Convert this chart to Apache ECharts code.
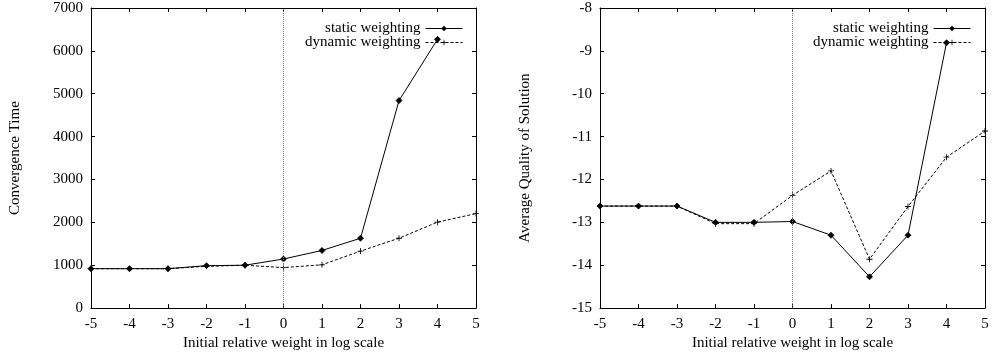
<!DOCTYPE html>
<html><head><meta charset="utf-8">
<script src="https://cdn.jsdelivr.net/npm/echarts@6/dist/echarts.min.js"></script>
<style>html,body{margin:0;padding:0;background:#fff}#c{width:992px;height:356px}</style>
</head><body><div id="c"></div>
<script>
const xValues = [-5, -4, -3, -2, -1, 0, 1, 2, 3, 4, 5];
const staticTime = [920, 920, 920, 990, 1000, 1145, 1345, 1630, 4840, 6270, null];
const dynamicTime = [920, 920, 920, 975, 1000, 945, 1010, 1330, 1630, 2005, 2205];
const staticQuality = [-12.62, -12.62, -12.62, -13.0, -13.0, -12.98, -13.3, -14.27, -13.3, -8.81, null];
const dynamicQuality = [-12.62, -12.62, -12.62, -13.03, -13.03, -12.37, -11.8, -13.86, -12.63, -11.48, -10.87];
const seriesNames = ['static weighting', 'dynamic weighting'];
const xAxisTitle = 'Initial relative weight in log scale';
const yTitles = ['Convergence Time', 'Average Quality of Solution'];

const FONT = 'Liberation Serif';
const plusPath = 'path://M-0.7,-5H0.7V-0.7H5V0.7H0.7V5H-0.7V0.7H-5V-0.7H-0.7Z';
function zip(ys){ return xValues.map((x,i)=> ys[i]==null ? null : [x, ys[i]]).filter(d=>d); }
const plainNum = v => String(v);

const grids = [
  {left: 91, right: 992-476, top: 8, bottom: 356-312},
  {left: 600, right: 992-985, top: 8, bottom: 356-312}
];
const txt = {fontFamily: FONT, fontSize: 15, color: '#000'};
const axLine = {show: true, onZero: false, lineStyle: {color: '#000', width: 1}};
const tick = {show: true, inside: true, length: 4, lineStyle: {color: '#000'}};

const xAxes = [], yAxes = [];
[0,1].forEach(g => {
  xAxes.push({type:'value', gridIndex:g, min:-5, max:5, interval:1, position:'bottom',
    axisLine: axLine, axisTick: tick, splitLine:{show:false},
    axisLabel: Object.assign({margin: 8, formatter: plainNum}, txt),
    name: xAxisTitle, nameLocation:'middle', nameGap: 23, nameTextStyle: txt});
  xAxes.push({type:'value', gridIndex:g, min:-5, max:5, interval:1, position:'top',
    axisLine: axLine, axisTick: tick, splitLine:{show:false}, axisLabel:{show:false}});
});
yAxes.push({type:'value', gridIndex:0, min:0, max:7000, interval:1000, position:'left',
  axisLine: axLine, axisTick: tick, splitLine:{show:false},
  axisLabel: Object.assign({margin: 8, formatter: plainNum}, txt),
  name: yTitles[0], nameLocation:'middle', nameGap: 68, nameTextStyle: txt});
yAxes.push({type:'value', gridIndex:0, min:0, max:7000, interval:1000, position:'right',
  axisLine: axLine, axisTick: tick, splitLine:{show:false}, axisLabel:{show:false}});
yAxes.push({type:'value', gridIndex:1, min:-15, max:-8, interval:1, position:'left',
  axisLine: axLine, axisTick: tick, splitLine:{show:false},
  axisLabel: Object.assign({margin: 8, formatter: plainNum}, txt),
  name: yTitles[1], nameLocation:'middle', nameGap: 67, nameTextStyle: txt});
yAxes.push({type:'value', gridIndex:1, min:-15, max:-8, interval:1, position:'right',
  axisLine: axLine, axisTick: tick, splitLine:{show:false}, axisLabel:{show:false}});

function staticSeries(data, xi, yi){
  return {name: seriesNames[0], type:'line', xAxisIndex: xi, yAxisIndex: yi, data: zip(data),
    symbol:'diamond', symbolSize: 6, showSymbol: true,
    lineStyle:{color:'#000', width:1}, itemStyle:{color:'#000', borderColor:'#000', borderWidth:0.8},
    animation:false, silent:true, z:3};
}
function dynamicSeries(data, xi, yi){
  return {name: seriesNames[1], type:'line', xAxisIndex: xi, yAxisIndex: yi, data: zip(data),
    symbol: plusPath, symbolSize: 6, showSymbol: true,
    lineStyle:{color:'#000', width:1, type:[3,2]}, itemStyle:{color:'#000'},
    animation:false, silent:true, z:2,
    markLine:{silent:true, symbol:'none', label:{show:false}, animation:false,
      lineStyle:{color:'#777', type:'dotted', width:1}, data:[{xAxis:0}]}};
}

const legendBase = {orient:'vertical', align:'right', itemWidth: 37, itemHeight: 7, itemGap: -1,
  padding: 0, data: seriesNames, textStyle: txt, selectedMode:false,
  lineStyle:{width:1}, itemStyle:{borderWidth:0}};
const option = {
  backgroundColor:'#fff',
  animation:false,
  grid: grids,
  xAxis: xAxes,
  yAxis: yAxes,
  legend: [
    Object.assign({right: 992-463, top: 21}, legendBase),
    Object.assign({right: 992-971, top: 21}, legendBase)
  ],
  series: [
    staticSeries(staticTime, 0, 0),
    dynamicSeries(dynamicTime, 0, 0),
    staticSeries(staticQuality, 2, 2),
    dynamicSeries(dynamicQuality, 2, 2)
  ]
};
const chart = echarts.init(document.getElementById('c'), null, {renderer:'canvas'});
chart.setOption(option);
</script></body></html>
